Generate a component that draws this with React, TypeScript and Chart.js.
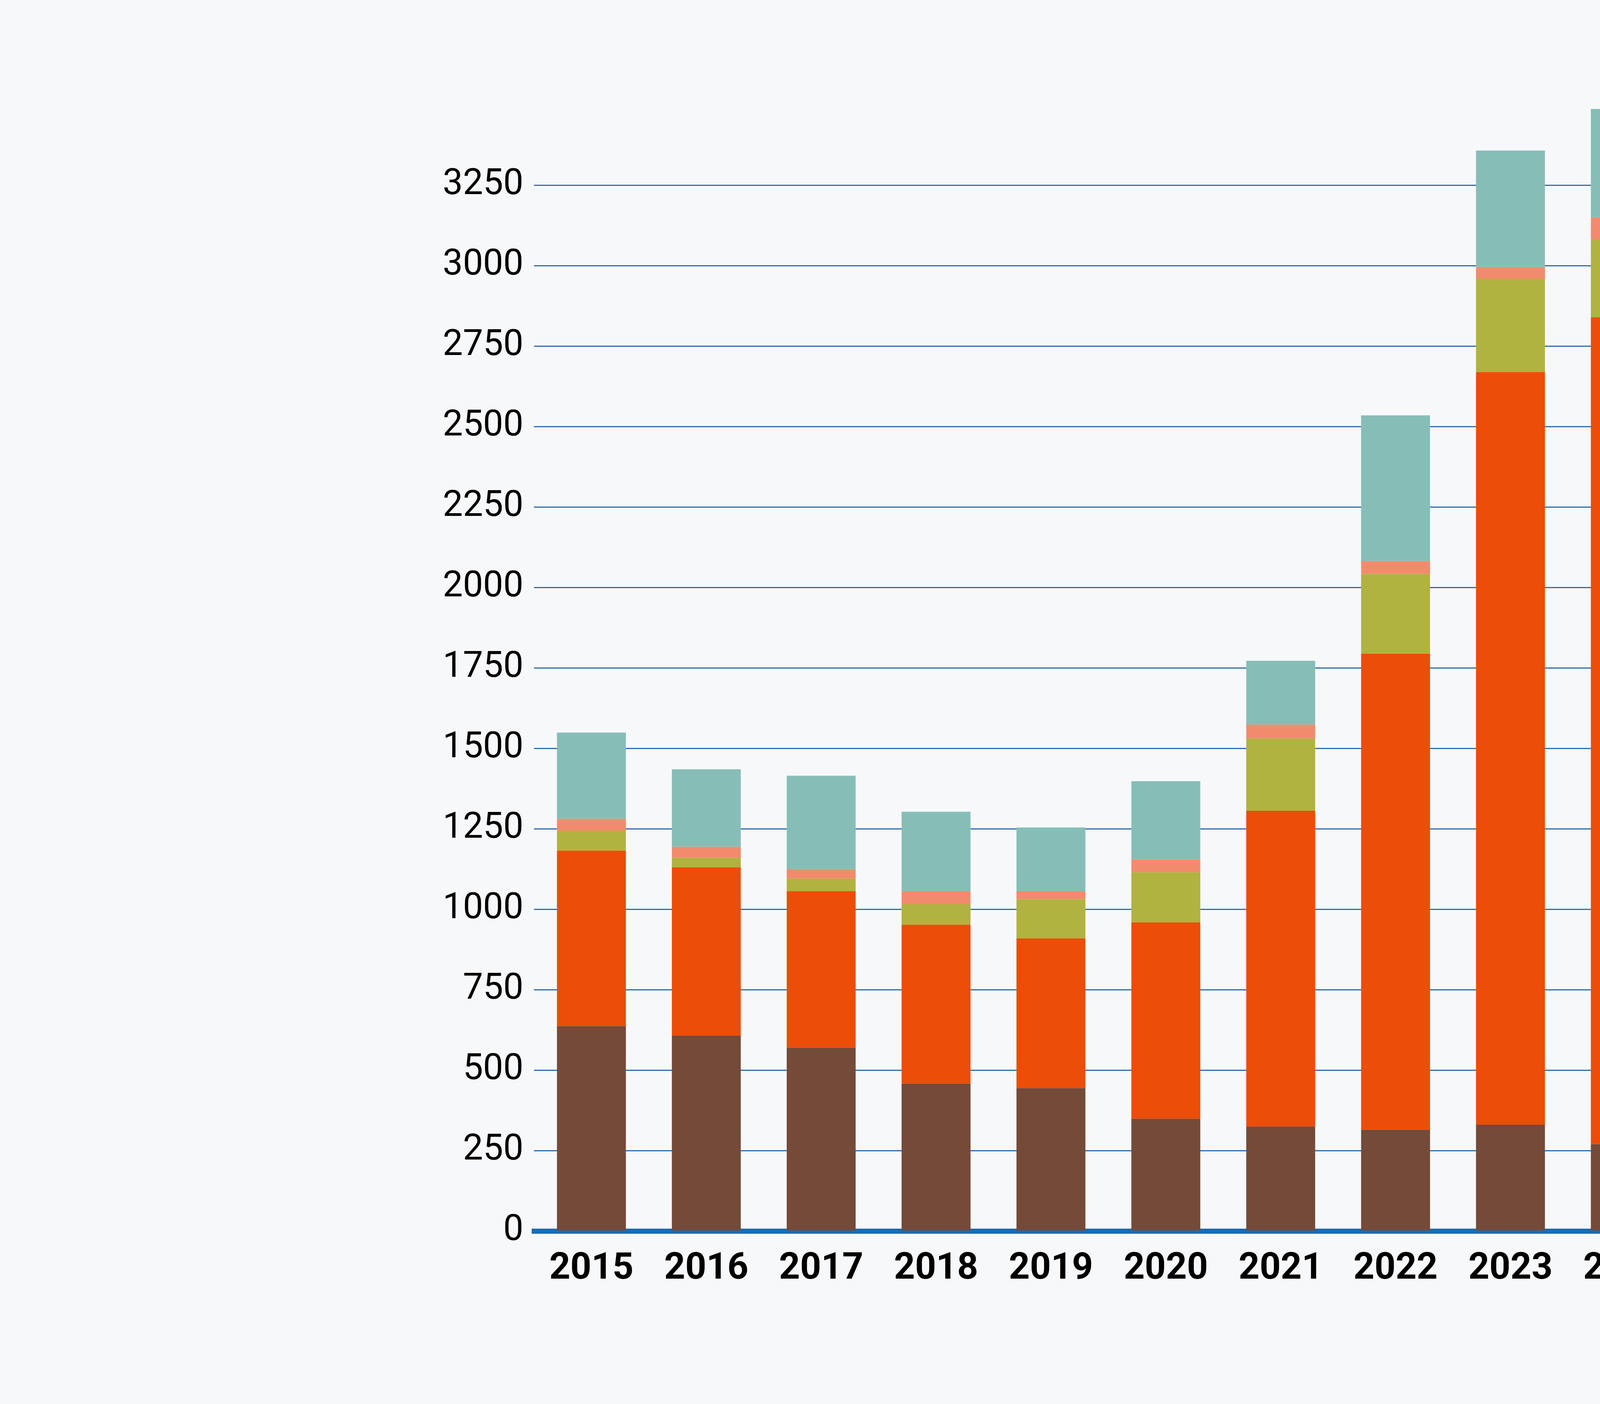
import React, { useEffect, useRef } from 'react';
import { Chart, registerables } from 'chart.js';

Chart.register(...registerables);

const years = ['2015', '2016', '2017', '2018', '2019', '2020', '2021', '2022', '2023', '2024', '2025'];

const isolation = [637, 607, 570, 458, 444, 349, 325, 315, 330, 270, 305];
const technique = [545, 523, 486, 494, 465, 610, 981, 1479, 2339, 2570, 1987];
const renovation = [62, 30, 39, 64, 122, 156, 225, 248, 290, 243, 298];
const construction = [37, 34, 30, 40, 25, 40, 43, 40, 37, 67, 42];
const chauffage = [268, 241, 290, 247, 198, 243, 198, 453, 362, 337, 684];

const BG = '#f7f8fa';

const App: React.FC = () => {
  const canvasRef = useRef<HTMLCanvasElement | null>(null);
  const chartRef = useRef<Chart | null>(null);

  useEffect(() => {
    document.body.style.margin = '0';
    document.body.style.background = BG;
    if (!canvasRef.current) return;
    const ctx = canvasRef.current.getContext('2d');
    if (!ctx) return;

    if (chartRef.current) chartRef.current.destroy();

    chartRef.current = new Chart(ctx, {
      type: 'bar',
      data: {
        labels: years,
        datasets: [
          { label: 'Isolation thermique', data: isolation, backgroundColor: '#744a39' },
          { label: 'Technique du bâtiment', data: technique, backgroundColor: '#ec4d08' },
          { label: 'Rénovation de systèmes', data: renovation, backgroundColor: '#b0b33f' },
          { label: 'Construction neuve', data: construction, backgroundColor: '#f28b6e' },
          { label: 'Chauffage centralisé', data: chauffage, backgroundColor: '#86beb7' },
        ],
      },
      options: {
        animation: false,
        responsive: true,
        maintainAspectRatio: false,
        devicePixelRatio: 1,
        layout: { padding: { left: 0, right: 1217, top: 186, bottom: 380 } },
        datasets: {
          bar: { categoryPercentage: 1, barPercentage: 0.6, borderWidth: 0 },
        },
        plugins: {
          tooltip: { enabled: false },
          legend: {
            position: 'right',
            align: 'end',
            reverse: true,
            maxWidth: 1110,
            labels: {
              boxWidth: 78,
              boxHeight: 78,
              padding: 52,
              color: '#111',
              font: { family: 'Roboto', size: 86 },
            },
          },
        },
        scales: {
          x: {
            stacked: true,
            z: 1,
            grid: { display: false },
            border: { display: true, color: '#1a6cb2', width: 13 },
            ticks: {
              color: '#000',
              // labels sit below the axis but outside its (short) box so the legend lines up
              mirror: true,
              padding: -155,
              font: { family: 'Roboto', size: 94, weight: 'bold' },
            },
            afterFit: (s: any) => { s.height = 63; },
          },
          y: {
            stacked: true,
            min: 0,
            max: 3600,
            grid: { color: '#2e6eab', lineWidth: 3, drawTicks: false },
            border: { display: false },
            ticks: {
              stepSize: 250,
              padding: 27,
              color: '#000',
              font: { family: 'Roboto', size: 92 },
              callback: (v: any) => String(v),
            },
            afterBuildTicks: (s: any) => { s.ticks = s.ticks.filter((t: any) => t.value <= 3250); },
            afterFit: (s: any) => { s.width = 1367; },
          },
          // empty spacer between the plot and the legend
          gap: {
            type: 'linear',
            position: 'right',
            display: true,
            grid: { display: false },
            border: { display: false },
            ticks: { display: false },
            afterFit: (s: any) => { s.width = 271; },
          },
        },
      },
    });

    return () => {
      if (chartRef.current) {
        chartRef.current.destroy();
        chartRef.current = null;
      }
    };
  }, []);

  return (
    <div style={{ position: 'relative', width: '7200px', height: '3595px', background: BG }}>
      <canvas ref={canvasRef}></canvas>
    </div>
  );
};

export default App;
